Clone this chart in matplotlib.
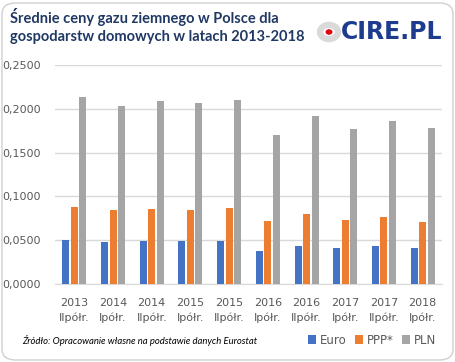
import matplotlib
matplotlib.use("Agg")
import matplotlib.pyplot as plt
import numpy as np
from matplotlib.patches import FancyBboxPatch, Circle, Patch

categories = ["2013\nIIpółr.", "2014\nIpółr.", "2014\nIIpółr.", "2015\nIpółr.", "2015\nIIpółr.",
              "2016\nIpółr.", "2016\nIIpółr.", "2017\nIpółr.", "2017\nIIpółr.", "2018\nIpółr."]
euro = [0.0506, 0.0483, 0.0494, 0.0494, 0.0494, 0.0380, 0.0437, 0.0414, 0.0437, 0.0414]
ppp = [0.0882, 0.0840, 0.0860, 0.0850, 0.0871, 0.0723, 0.0803, 0.0734, 0.0768, 0.0711]
pln = [0.2136, 0.2034, 0.2091, 0.2068, 0.2102, 0.1705, 0.1920, 0.1773, 0.1864, 0.1784]
yticks = [0.0, 0.05, 0.10, 0.15, 0.20, 0.25]
series_names = ["Euro", "PPP*", "PLN"]
colors = ["#4472C4", "#ED7D31", "#A5A5A5"]

W, H = 456, 362
fig = plt.figure(figsize=(W / 100, H / 100), dpi=100)
fig.patch.set_facecolor("white")

# rounded border
border = FancyBboxPatch((2 / W, 2 / H), (W - 5) / W, (H - 5) / H,
                        boxstyle="round,pad=0,rounding_size=0.03",
                        transform=fig.transFigure, facecolor="none",
                        edgecolor="#D0D0D0", linewidth=1.0, zorder=0)
fig.patches.append(border)

ax = fig.add_axes([55 / W, 1 - 284 / H, 387 / W, 219 / H])
ax.set_facecolor("none")
x = np.arange(len(categories))
bw = 0.18
off = 0.22
for i, (vals, c) in enumerate(zip([euro, ppp, pln], colors)):
    ax.bar(x + (i - 1) * off, vals, width=bw, color=c, zorder=3)

ax.set_xlim(-0.5, len(categories) - 0.5)
ax.set_ylim(0, 0.25)
ax.set_yticks(yticks)
ax.set_yticklabels([f"{v:.4f}".replace(".", ",") for v in yticks])
ax.set_xticks(x)
ax.set_xticklabels(categories, linespacing=1.5)
ax.tick_params(axis="both", length=0, colors="#595959", labelsize=8)
ax.tick_params(axis="x", pad=10)
ax.tick_params(axis="y", pad=10)
ax.grid(axis="y", color="#D9D9D9", linewidth=1.0, zorder=0)
for s in ["top", "right", "left"]:
    ax.spines[s].set_visible(False)
ax.spines["bottom"].set_color("#D9D9D9")

# title
fig.text(10 / W, 1 - 26 / H, "Średnie ceny gazu ziemnego w Polsce dla\ngospodarstw domowych w latach 2013-2018",
         fontsize=10.5, fontweight="bold", color="#203864", family="Lato",
         va="center", ha="left", linespacing=1.3)

# logo
fig.patches.append(Circle((329 / W, 1 - 32 / H), 9 / W, transform=fig.transFigure,
                          facecolor="none", edgecolor="#DADADA", linewidth=4.5))
fig.patches.append(Circle((329 / W, 1 - 32 / H), 3.5 / W, transform=fig.transFigure,
                          facecolor="#E30613", edgecolor="none"))
fig.text(341 / W, 1 - 32 / H, "CIRE.PL", fontsize=17, fontweight="heavy",
         color="#1D3C8F", family="DejaVu Sans", va="center", ha="left")

# source
fig.text(22 / W, 1 - 340 / H, "Źródło: Opracowanie własne na podstawie danych Eurostat",
         fontsize=6.8, style="italic", color="black", family="Lato", va="center", ha="left")

handles = [Patch(facecolor=c, edgecolor="none") for c in colors]
leg = fig.legend(handles, series_names, loc="center left", bbox_to_anchor=(308 / W, 1 - 340 / H),
                 ncol=3, frameon=False, fontsize=8.5, handlelength=0.7, handleheight=0.7,
                 handletextpad=0.3, columnspacing=0.7, borderaxespad=0, borderpad=0)
for t in leg.get_texts():
    t.set_color("#595959")

fig.savefig("out.png", dpi=100)
